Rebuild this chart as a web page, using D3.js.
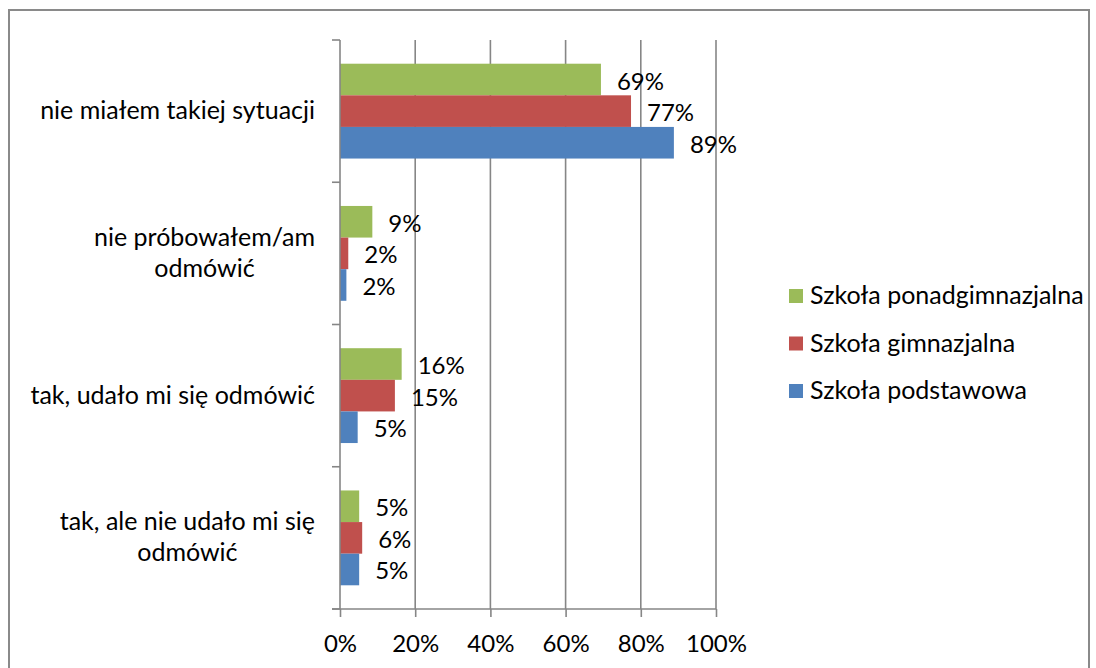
<!DOCTYPE html>
<html lang="pl">
<head>
<meta charset="utf-8">
<title>wykres</title>
<script src="https://cdn.jsdelivr.net/npm/d3@7"></script>
<style>
  body { margin: 0; background: #fff; }
  svg text { font-family: Lato, "Open Sans", sans-serif; fill: #000; }
</style>
</head>
<body>
<script>
// dane
var categories = ["nie miałem takiej sytuacji", "nie próbowałem/am\nodmówić", "tak, udało mi się odmówić", "tak, ale nie udało mi się\nodmówić"];
var series = ["Szkoła ponadgimnazjalna", "Szkoła gimnazjalna", "Szkoła podstawowa"];
var ponadgimnazjalna = [69.4, 8.6, 16.4, 5.1];
var gimnazjalna = [77.4, 2.2, 14.6, 5.9];
var podstawowa = [88.8, 1.7, 4.7, 5.1];
var xTicks = [0, 20, 40, 60, 80, 100];
var colors = ["#9BBB59", "#C0504D", "#4F81BD"];

var values = [ponadgimnazjalna, gimnazjalna, podstawowa];

var width = 1096, height = 668;
var numSize = 24;   // liczby
var txtSize = 25;   // kategorie i legenda

var svg = d3.select("body").append("svg")
  .attr("width", width)
  .attr("height", height);

// ramka
svg.append("rect")
  .attr("x", 9).attr("y", 10)
  .attr("width", 1080).attr("height", 680)
  .attr("fill", "none")
  .attr("stroke", "#8a8a8a")
  .attr("stroke-width", 2);

var plot = { left: 340, right: 716, top: 40, bottom: 609 };

var x = d3.scaleLinear().domain([0, 100]).range([plot.left, plot.right]);
var y = d3.scaleBand().domain(categories).range([plot.top, plot.bottom])
  .paddingInner(1 / 3).paddingOuter(1 / 6);
var ys = d3.scaleBand().domain(series).range([0, y.bandwidth()]);

// siatka
svg.append("g").selectAll("line")
  .data(xTicks.slice(1))
  .enter().append("line")
  .attr("x1", d => x(d)).attr("x2", d => x(d))
  .attr("y1", plot.top).attr("y2", plot.bottom)
  .attr("stroke", "#868686").attr("stroke-width", 1.6);

// słupki
var groups = svg.append("g").selectAll("g")
  .data(categories)
  .enter().append("g")
  .attr("transform", d => "translate(0," + y(d) + ")");

groups.selectAll("rect")
  .data((c, ci) => series.map((s, si) => ({ s: s, si: si, v: values[si][ci] })))
  .enter().append("rect")
  .attr("x", x(0))
  .attr("y", d => ys(d.s))
  .attr("width", d => x(d.v) - x(0))
  .attr("height", ys.bandwidth())
  .attr("fill", d => colors[d.si]);

groups.selectAll("text")
  .data((c, ci) => series.map((s, si) => ({ s: s, si: si, v: values[si][ci] })))
  .enter().append("text")
  .attr("x", d => x(d.v) + 16)
  .attr("y", d => ys(d.s) + ys.bandwidth() / 2 + 10)
  .style("font-size", numSize + "px")
  .text(d => Math.round(d.v) + "%");

// oś X
var xAxis = d3.axisBottom(x)
  .tickValues(xTicks)
  .tickSize(8)
  .tickPadding(18)
  .tickFormat(d => d + "%");

var gx = svg.append("g")
  .attr("transform", "translate(0," + plot.bottom + ")")
  .call(xAxis);
gx.select(".domain").remove();
gx.selectAll("line").attr("stroke", "#868686").attr("stroke-width", 1.6);
gx.selectAll("text").style("font-size", numSize + "px").attr("font-family", null).attr("fill", "#000");
gx.append("line")
  .attr("x1", plot.left - 8).attr("x2", plot.right)
  .attr("stroke", "#868686").attr("stroke-width", 1.6);

// oś Y
var bounds = categories.map(c => y(c) - y.step() * y.paddingOuter());
bounds.push(plot.bottom);
svg.append("line")
  .attr("x1", plot.left).attr("x2", plot.left)
  .attr("y1", plot.top).attr("y2", plot.bottom)
  .attr("stroke", "#868686").attr("stroke-width", 1.6);
svg.append("g").selectAll("line")
  .data(bounds)
  .enter().append("line")
  .attr("x1", plot.left - 8).attr("x2", plot.left)
  .attr("y1", d => d).attr("y2", d => d)
  .attr("stroke", "#868686").attr("stroke-width", 1.6);

// etykiety kategorii
var lineH = 31;
categories.forEach(function (c) {
  var lines = c.split("\n");
  var cy = y(c) + y.bandwidth() / 2;
  var g = svg.append("g");
  var t = g.selectAll("text").data(lines).enter().append("text")
    .attr("text-anchor", "middle")
    .style("font-size", txtSize + "px")
    .attr("y", (d, i) => cy + 8 + (i - (lines.length - 1) / 2) * lineH)
    .text(d => d);
  var w = d3.max(t.nodes(), n => n.getComputedTextLength());
  t.attr("x", 315 - w / 2);
});

// legenda
var legend = svg.append("g").selectAll("g")
  .data(series)
  .enter().append("g")
  .attr("transform", (d, i) => "translate(789," + (289 + i * 47.5) + ")");
legend.append("rect")
  .attr("width", 14).attr("height", 14)
  .attr("fill", (d, i) => colors[i]);
legend.append("text")
  .attr("x", 21).attr("y", 15)
  .style("font-size", txtSize + "px")
  .text(d => d);
</script>
</body>
</html>
